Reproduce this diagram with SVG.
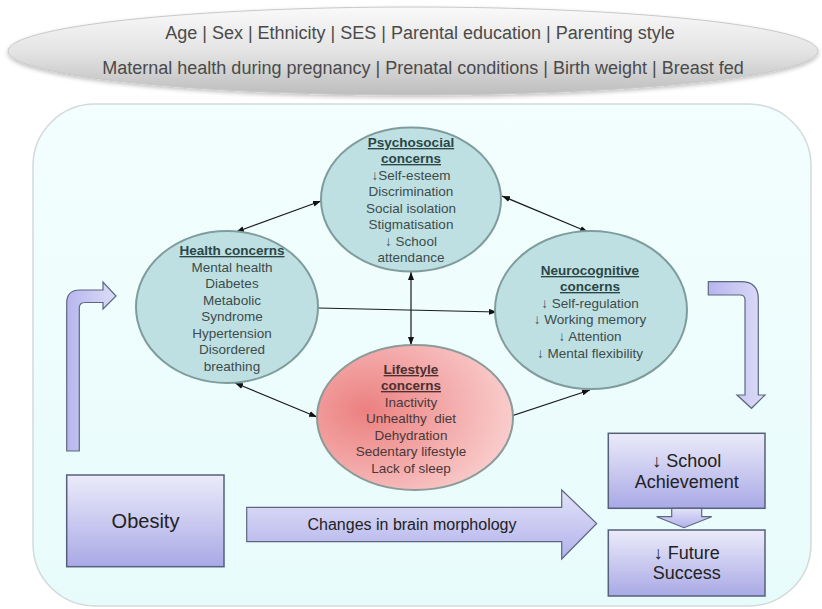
<svg xmlns="http://www.w3.org/2000/svg" width="822" height="609" viewBox="0 0 822 609">
<defs>
<linearGradient id="gTop" x1="0" y1="0" x2="0" y2="1">
<stop offset="0" stop-color="#fafafa"/><stop offset="0.5" stop-color="#e4e4e4"/><stop offset="1" stop-color="#bdbdbd"/>
</linearGradient>
<linearGradient id="gBg" x1="0" y1="0" x2="0" y2="1">
<stop offset="0" stop-color="#f3fefe"/><stop offset="1" stop-color="#e8fbfb"/>
</linearGradient>
<linearGradient id="gBox" x1="0" y1="0" x2="0" y2="1">
<stop offset="0" stop-color="#ebebfa"/><stop offset="1" stop-color="#a9a9e6"/>
</linearGradient>
<linearGradient id="gArr" x1="0" y1="0" x2="0" y2="1">
<stop offset="0" stop-color="#e2e2f8"/><stop offset="1" stop-color="#b2b2ec"/>
</linearGradient>
<linearGradient id="gArrH" x1="0" y1="0" x2="1" y2="0">
<stop offset="0" stop-color="#b6b6ee"/><stop offset="1" stop-color="#dcdcf7"/>
</linearGradient>
<radialGradient id="gLife" cx="0.25" cy="0.45" r="0.85">
<stop offset="0" stop-color="#ec8080"/><stop offset="1" stop-color="#fbd6d6"/>
</radialGradient>
<marker id="ah" markerWidth="8" markerHeight="6" refX="8" refY="3" orient="auto-start-reverse" markerUnits="userSpaceOnUse">
<path d="M0,0 L8,3 L0,6 z" fill="#111"/>
</marker>
<filter id="sh" x="-5%" y="-5%" width="110%" height="115%">
<feGaussianBlur in="SourceAlpha" stdDeviation="2"/><feOffset dx="0" dy="2" result="b"/>
<feComponentTransfer><feFuncA type="linear" slope="0.25"/></feComponentTransfer>
<feMerge><feMergeNode/><feMergeNode in="SourceGraphic"/></feMerge>
</filter>
</defs>
<style>
text{font-family:"Liberation Sans",Arial,sans-serif;text-anchor:middle}
.top{font-size:18px;fill:#4a4a4a}
.el{fill:#bfe0e2;stroke:#7f9c9c;stroke-width:2}
.t{font-size:13.5px;fill:#3c4c4c}
.h{font-size:13.5px;font-weight:bold;fill:#2a4646;text-decoration:underline}
.lt{font-size:13.5px;fill:#4a3838}
.lh{font-size:13.5px;font-weight:bold;fill:#4a3030;text-decoration:underline}
.box{fill:url(#gBox);stroke:#55607a;stroke-width:1.5}
.arr{stroke:#5d6680;stroke-width:1.2}
.bt{font-size:18px;fill:#222}
.con{stroke:#1a1a1a;stroke-width:1.2;fill:none}
</style>
<rect width="822" height="609" fill="#ffffff"/>
<g id="factors">
<ellipse cx="413" cy="51" rx="405" ry="44" fill="url(#gTop)" stroke="#c8c8c8" stroke-width="1" filter="url(#sh)"/>
<text class="top" x="420" y="39">Age | Sex | Ethnicity | SES | Parental education | Parenting style</text>
<text class="top" x="423" y="74">Maternal health during pregnancy | Prenatal conditions | Birth weight | Breast fed</text>
</g>
<g id="background">
<rect x="33" y="104" width="778" height="502" rx="62" ry="62" fill="url(#gBg)" stroke="#d2dada" stroke-width="1.5"/>
</g>
<g id="connectors">
<line class="con" x1="236" y1="232" x2="321" y2="201" marker-start="url(#ah)" marker-end="url(#ah)"/>
<line class="con" x1="502" y1="196" x2="588" y2="232" marker-start="url(#ah)" marker-end="url(#ah)"/>
<line class="con" x1="411" y1="272" x2="411" y2="345" marker-start="url(#ah)" marker-end="url(#ah)"/>
<line class="con" x1="318" y1="308" x2="497" y2="312" marker-end="url(#ah)"/>
<line class="con" x1="235" y1="383" x2="317" y2="417" marker-start="url(#ah)" marker-end="url(#ah)"/>
<line class="con" x1="505" y1="418" x2="590" y2="390" marker-start="url(#ah)" marker-end="url(#ah)"/>
</g>
<g id="psychosocial">
<ellipse class="el" cx="411" cy="199.5" rx="90" ry="72"/>
<text class="h" x="411" y="147">Psychosocial</text>
<text class="h" x="411" y="163">concerns</text>
<text class="t" x="411" y="179.5">↓Self-esteem</text>
<text class="t" x="411" y="196">Discrimination</text>
<text class="t" x="411" y="212.5">Social isolation</text>
<text class="t" x="411" y="229">Stigmatisation</text>
<text class="t" x="411" y="245.5">↓ School</text>
<text class="t" x="411" y="262">attendance</text>
</g>
<g id="health">
<ellipse class="el" cx="227" cy="307" rx="91" ry="76"/>
<text class="h" x="232" y="255">Health concerns</text>
<text class="t" x="232" y="271.5">Mental health</text>
<text class="t" x="232" y="288">Diabetes</text>
<text class="t" x="232" y="304.5">Metabolic</text>
<text class="t" x="232" y="321">Syndrome</text>
<text class="t" x="232" y="337.5">Hypertension</text>
<text class="t" x="232" y="354">Disordered</text>
<text class="t" x="232" y="370.5">breathing</text>
</g>
<g id="neurocognitive">
<ellipse class="el" cx="591" cy="310" rx="96" ry="79"/>
<text class="h" x="590" y="275">Neurocognitive</text>
<text class="h" x="590" y="291">concerns</text>
<text class="t" x="590" y="307.5">↓ Self-regulation</text>
<text class="t" x="590" y="324">↓ Working memory</text>
<text class="t" x="590" y="340.5">↓ Attention</text>
<text class="t" x="590" y="357.5">↓ Mental flexibility</text>
</g>
<g id="lifestyle">
<ellipse cx="415" cy="417.5" rx="98" ry="72.5" fill="url(#gLife)" stroke="#8c9a98" stroke-width="2"/>
<text class="lh" x="411" y="374">Lifestyle</text>
<text class="lh" x="411" y="390">concerns</text>
<text class="lt" x="411" y="406.5">Inactivity</text>
<text class="lt" x="411" y="423" style="white-space:pre">Unhealthy  diet</text>
<text class="lt" x="411" y="439.5">Dehydration</text>
<text class="lt" x="411" y="456">Sedentary lifestyle</text>
<text class="lt" x="411" y="472.5">Lack of sleep</text>
</g>
<g id="arrow-left">
<path class="arr" fill="url(#gArrH)" d="M66.7,451 L66.7,303 Q66.7,290 80,290 L103,290 L103,282 L116,296 L103,309 L103,302.5 L85,302.5 Q79.3,302.5 79.3,308 L79.3,451 Z"/>
</g>
<g id="arrow-right">
<path class="arr" fill="url(#gArrH)" d="M708.3,281.7 L741,281.7 Q758.3,281.7 758.3,299 L758.3,395 L765,395 L751.5,408.3 L737,395 L745,395 L745,300 Q745,295 740,295 L708.3,295 Z"/>
</g>
<g id="obesity">
<rect class="box" x="66.7" y="475" width="157.3" height="91.7"/>
<text class="bt" x="145.5" y="527.5" style="font-size:20px">Obesity</text>
</g>
<g id="brain-arrow">
<path class="arr" fill="url(#gArr)" d="M246.7,507.3 L561.7,507.3 L561.7,490 L596.7,523.5 L561.7,559 L561.7,541.7 L246.7,541.7 Z"/>
<text x="412" y="530" style="font-size:16px;fill:#222">Changes in brain morphology</text>
</g>
<g id="school">
<rect class="box" x="608.3" y="433.3" width="156.7" height="75"/>
<text class="bt" x="686.7" y="466.7">↓ School</text>
<text class="bt" x="686.7" y="488.3">Achievement</text>
</g>
<g id="small-arrow">
<path class="arr" fill="url(#gArr)" d="M671.7,508.3 L701.7,508.3 L701.7,516.7 L711.7,516.7 L684,527.7 L656.7,516.7 L671.7,516.7 Z"/>
</g>
<g id="future">
<rect class="box" x="608.3" y="530" width="156.7" height="66"/>
<text class="bt" x="686.7" y="559">↓ Future</text>
<text class="bt" x="686.7" y="579.3">Success</text>
</g>
</svg>
